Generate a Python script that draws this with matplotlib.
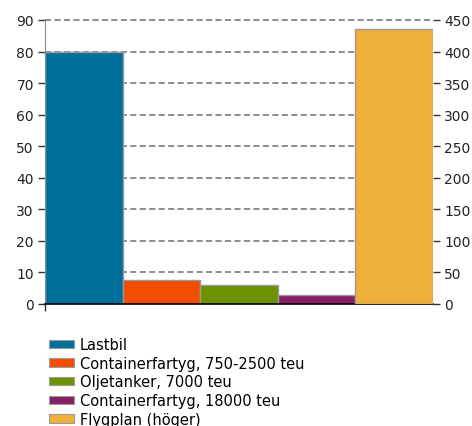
import matplotlib
matplotlib.use("Agg")
import matplotlib.pyplot as plt
from matplotlib.patches import Patch

# data
labels = ["Lastbil", "Containerfartyg, 750-2500 teu", "Oljetanker, 7000 teu",
          "Containerfartyg, 18000 teu", "Flygplan (höger)"]
left_values = [80, 7.7, 5.9, 2.9]
right_values = [435]
colors = ["#006e9b", "#f54d00", "#6e9100", "#861f66", "#eeb03a"]
left_ticks = list(range(0, 91, 10))
right_ticks = list(range(0, 451, 50))

plt.rcParams["font.family"] = "DejaVu Sans"

fig = plt.figure(figsize=(4.72, 4.27), dpi=100)
ax = fig.add_axes([45 / 472, 1 - 305 / 427, 388 / 472, 284 / 427])
ax2 = ax.twinx()

edge = "#9a9a9a"
x_left = list(range(len(left_values)))
ax.bar(x_left, left_values, width=1.0, align="edge", color=colors[:4],
       edgecolor=edge, linewidth=1.0, zorder=2)
ax2.bar([len(left_values)], right_values, width=1.0, align="edge",
        color=colors[4], edgecolor=edge, linewidth=1.0, zorder=2)

ax.set_xlim(0, 5)
ax.set_ylim(0, 90)
ax2.set_ylim(0, 450)
ax.set_yticks(left_ticks)
ax2.set_yticks(right_ticks)
ax.set_xticks([0])
ax.set_xticklabels([""])

# dashed grid behind the bars, top line not clipped
ax.set_axisbelow(True)
ax.yaxis.grid(True, linestyle=(0, (4, 2.2)), color="#6f6f6f", linewidth=1.1)
grid = ax.yaxis.get_gridlines()
grid[0].set_visible(False)
for g in grid:
    g.set_clip_on(False)

for a in (ax, ax2):
    for s in a.spines.values():
        s.set_visible(False)
ax.spines["left"].set_visible(True)
ax.spines["left"].set_color("#8a8a8a")
ax.spines["bottom"].set_visible(True)
ax.spines["bottom"].set_color("black")
ax.spines["bottom"].set_linewidth(1.2)
ax.spines["bottom"].set_zorder(5)

ax.tick_params(axis="y", length=5, width=1, color="#333333", labelsize=10,
               labelcolor="#222222", pad=3)
ax.tick_params(axis="x", length=5, width=1, color="#333333")
ax2.tick_params(axis="y", length=5, width=1, color="#333333", labelsize=10,
                labelcolor="#222222", pad=3)

handles = [Patch(facecolor=c, edgecolor=edge, linewidth=0.8) for c in colors]
fig.legend(handles, labels, loc="upper left",
           bbox_to_anchor=(49 / 472, 1 - 338 / 427), frameon=False,
           fontsize=10.5, handlelength=1.7, handleheight=0.5,
           handletextpad=0.4, labelspacing=0.25, borderpad=0, borderaxespad=0)

fig.savefig("out.png", dpi=100)
